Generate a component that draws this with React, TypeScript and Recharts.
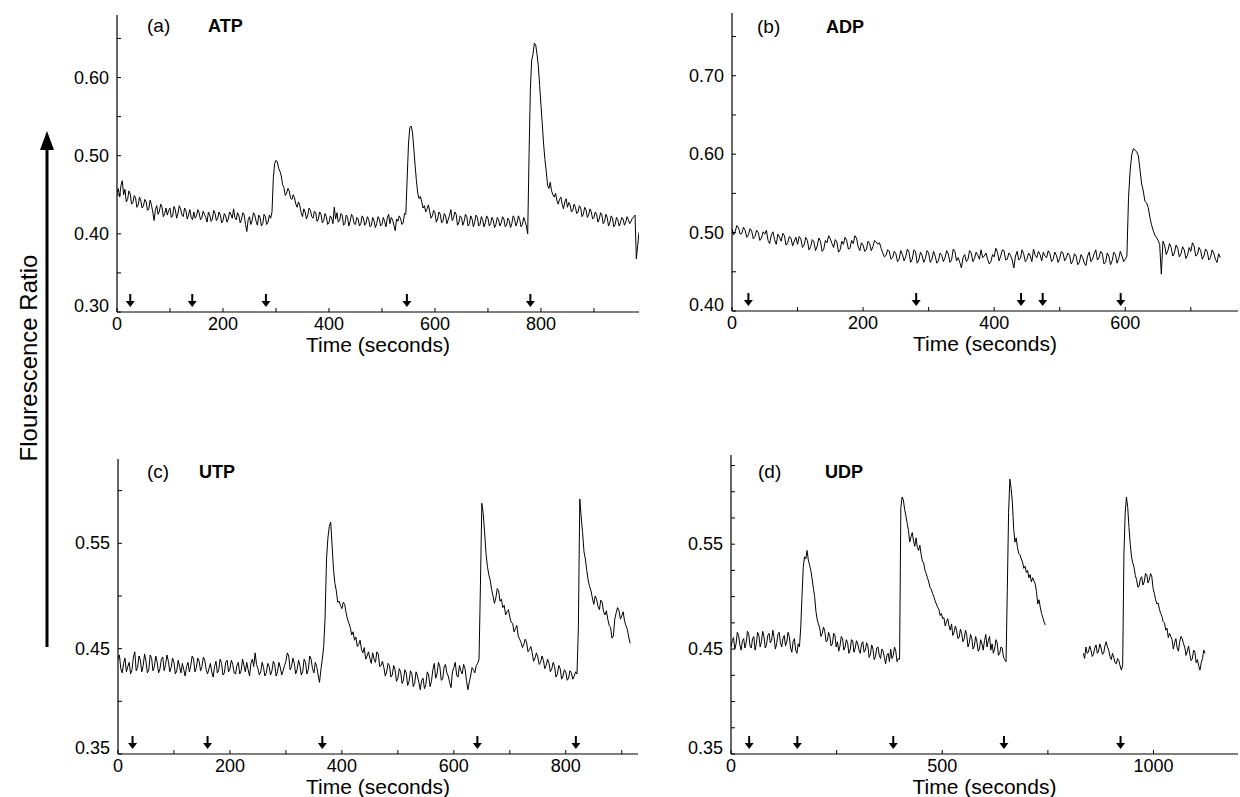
import { ComposedChart, Line, Scatter, XAxis, YAxis } from "recharts";

const FONT = '"Liberation Sans", Arial, Helvetica, sans-serif';

// ---- (a) ATP ----
const atpTime = [
  0, 2.5, 5, 7.5, 10, 12.5, 15, 17.5, 20, 22.5, 25, 27.5, 30, 32.5, 35, 37.5, 40, 42.5, 45, 47.5,
  50, 52.5, 55, 57.5, 60, 62.5, 65, 67.5, 70, 72.5, 75, 77.5, 80, 82.5, 85, 87.5, 90, 92.5, 95, 97.5,
  100, 102.5, 105, 107.5, 110, 112.5, 115, 117.5, 120, 122.5, 125, 127.5, 130, 132.5, 135, 137.5, 140, 142.5, 145, 147.5,
  150, 152.5, 155, 157.5, 160, 162.5, 165, 167.5, 170, 172.5, 175, 177.5, 180, 182.5, 185, 187.5, 190, 192.5, 195, 197.5,
  200, 202.5, 205, 207.5, 210, 212.5, 215, 217.5, 220, 222.5, 225, 227.5, 230, 232.5, 235, 237.5, 240, 242.5, 245, 247.5,
  250, 252.5, 255, 257.5, 260, 262.5, 265, 267.5, 270, 272.5, 275, 277.5, 280, 282.5, 285, 287.5, 290, 292.5, 295, 297.5,
  300, 302.5, 305, 307.5, 310, 312.5, 315, 317.5, 320, 322.5, 325, 327.5, 330, 332.5, 335, 337.5, 340, 342.5, 345, 347.5,
  350, 352.5, 355, 357.5, 360, 362.5, 365, 367.5, 370, 372.5, 375, 377.5, 380, 382.5, 385, 387.5, 390, 392.5, 395, 397.5,
  400, 402.5, 405, 407.5, 410, 412.5, 415, 417.5, 420, 422.5, 425, 427.5, 430, 432.5, 435, 437.5, 440, 442.5, 445, 447.5,
  450, 452.5, 455, 457.5, 460, 462.5, 465, 467.5, 470, 472.5, 475, 477.5, 480, 482.5, 485, 487.5, 490, 492.5, 495, 497.5,
  500, 502.5, 505, 507.5, 510, 512.5, 515, 517.5, 520, 522.5, 525, 527.5, 530, 532.5, 535, 537.5, 540, 542.5, 545, 547.5,
  550, 552.5, 555, 557.5, 560, 562.5, 565, 567.5, 570, 572.5, 575, 577.5, 580, 582.5, 585, 587.5, 590, 592.5, 595, 597.5,
  600, 602.5, 605, 607.5, 610, 612.5, 615, 617.5, 620, 622.5, 625, 627.5, 630, 632.5, 635, 637.5, 640, 642.5, 645, 647.5,
  650, 652.5, 655, 657.5, 660, 662.5, 665, 667.5, 670, 672.5, 675, 677.5, 680, 682.5, 685, 687.5, 690, 692.5, 695, 697.5,
  700, 702.5, 705, 707.5, 710, 712.5, 715, 717.5, 720, 722.5, 725, 727.5, 730, 732.5, 735, 737.5, 740, 742.5, 745, 747.5,
  750, 752.5, 755, 757.5, 760, 762.5, 765, 767.5, 770, 772.5, 775, 777.5, 780, 782.5, 785, 787.5, 790, 792.5, 795, 797.5,
  800, 802.5, 805, 807.5, 810, 812.5, 815, 817.5, 820, 822.5, 825, 827.5, 830, 832.5, 835, 837.5, 840, 842.5, 845, 847.5,
  850, 852.5, 855, 857.5, 860, 862.5, 865, 867.5, 870, 872.5, 875, 877.5, 880, 882.5, 885, 887.5, 890, 892.5, 895, 897.5,
  900, 902.5, 905, 907.5, 910, 912.5, 915, 917.5, 920, 922.5, 925, 927.5, 930, 932.5, 935, 937.5, 940, 942.5, 945, 947.5,
  950, 952.5, 955, 957.5, 960, 962.5, 965, 967.5, 970, 972.5, 975, 977.5, 980, 982.5, 985,
];
const atpRatio = [
  0.452, 0.458, 0.447, 0.462, 0.468, 0.45, 0.457, 0.441, 0.444, 0.455, 0.451, 0.438, 0.44, 0.449, 0.446, 0.434, 0.437, 0.447, 0.442, 0.433,
  0.436, 0.444, 0.441, 0.43, 0.432, 0.443, 0.437, 0.428, 0.417, 0.431, 0.436, 0.425, 0.429, 0.438, 0.434, 0.422, 0.426, 0.433, 0.424, 0.43,
  0.433, 0.421, 0.423, 0.435, 0.431, 0.42, 0.426, 0.436, 0.432, 0.424, 0.422, 0.433, 0.43, 0.419, 0.424, 0.431, 0.421, 0.418, 0.428, 0.42,
  0.423, 0.431, 0.427, 0.418, 0.42, 0.429, 0.425, 0.421, 0.415, 0.428, 0.424, 0.416, 0.419, 0.43, 0.426, 0.417, 0.42, 0.428, 0.424, 0.414,
  0.417, 0.426, 0.423, 0.415, 0.419, 0.428, 0.425, 0.42, 0.432, 0.421, 0.418, 0.427, 0.423, 0.414, 0.419, 0.427, 0.424, 0.412, 0.403, 0.418,
  0.422, 0.412, 0.417, 0.427, 0.424, 0.416, 0.411, 0.424, 0.421, 0.41, 0.413, 0.425, 0.422, 0.412, 0.415, 0.424, 0.42, 0.428, 0.472, 0.49,
  0.494, 0.492, 0.484, 0.48, 0.474, 0.463, 0.459, 0.449, 0.452, 0.458, 0.455, 0.446, 0.444, 0.45, 0.446, 0.438, 0.434, 0.441, 0.436, 0.427,
  0.422, 0.432, 0.428, 0.419, 0.424, 0.433, 0.43, 0.422, 0.42, 0.429, 0.427, 0.416, 0.419, 0.428, 0.425, 0.414, 0.417, 0.426, 0.422, 0.412,
  0.414, 0.423, 0.42, 0.413, 0.434, 0.419, 0.427, 0.415, 0.417, 0.426, 0.424, 0.411, 0.413, 0.424, 0.421, 0.41, 0.416, 0.425, 0.422, 0.413,
  0.412, 0.421, 0.419, 0.41, 0.413, 0.423, 0.42, 0.411, 0.414, 0.422, 0.418, 0.409, 0.411, 0.421, 0.417, 0.408, 0.413, 0.422, 0.419, 0.41,
  0.412, 0.421, 0.416, 0.409, 0.42, 0.425, 0.413, 0.421, 0.418, 0.411, 0.404, 0.419, 0.416, 0.423, 0.42, 0.412, 0.414, 0.426, 0.425, 0.47,
  0.515, 0.536, 0.538, 0.53, 0.51, 0.488, 0.468, 0.452, 0.445, 0.448, 0.441, 0.433, 0.436, 0.428, 0.432, 0.437, 0.429, 0.42, 0.423, 0.43,
  0.427, 0.415, 0.419, 0.428, 0.425, 0.414, 0.416, 0.426, 0.423, 0.413, 0.418, 0.424, 0.431, 0.417, 0.42, 0.428, 0.425, 0.411, 0.414, 0.423,
  0.421, 0.411, 0.416, 0.425, 0.422, 0.41, 0.413, 0.423, 0.419, 0.409, 0.415, 0.424, 0.421, 0.41, 0.412, 0.422, 0.418, 0.409, 0.414, 0.423,
  0.42, 0.41, 0.413, 0.421, 0.417, 0.408, 0.412, 0.421, 0.418, 0.41, 0.414, 0.422, 0.419, 0.409, 0.411, 0.42, 0.417, 0.408, 0.413, 0.423,
  0.42, 0.41, 0.414, 0.423, 0.418, 0.409, 0.412, 0.421, 0.416, 0.41, 0.4, 0.5, 0.585, 0.622, 0.63, 0.644, 0.642, 0.63, 0.615, 0.59,
  0.565, 0.54, 0.515, 0.495, 0.48, 0.462, 0.458, 0.466, 0.455, 0.45, 0.447, 0.452, 0.443, 0.438, 0.444, 0.447, 0.438, 0.432, 0.441, 0.445,
  0.434, 0.44, 0.437, 0.428, 0.43, 0.438, 0.434, 0.426, 0.428, 0.436, 0.433, 0.422, 0.425, 0.434, 0.431, 0.421, 0.424, 0.432, 0.428, 0.419,
  0.421, 0.428, 0.425, 0.415, 0.419, 0.427, 0.424, 0.413, 0.416, 0.425, 0.421, 0.41, 0.414, 0.423, 0.42, 0.409, 0.412, 0.421, 0.418, 0.41,
  0.414, 0.421, 0.419, 0.411, 0.415, 0.422, 0.418, 0.413, 0.416, 0.42, 0.422, 0.424, 0.368, 0.385, 0.402,
];
const atpDoses = [25, 142, 281, 547, 780];
const atpXTicks = [0, 100, 200, 300, 400, 500, 600, 700, 800, 900];
const atpXLabels = [0, 200, 400, 600, 800];
const atpYTicks = [0.3, 0.35, 0.4, 0.45, 0.5, 0.55, 0.6, 0.65];
const atpYLabels = [0.3, 0.4, 0.5, 0.6];

// ---- (b) ADP ----
const adpTime = [
  0, 2.5, 5, 7.5, 10, 12.5, 15, 17.5, 20, 22.5, 25, 27.5, 30, 32.5, 35, 37.5, 40, 42.5, 45, 47.5,
  50, 52.5, 55, 57.5, 60, 62.5, 65, 67.5, 70, 72.5, 75, 77.5, 80, 82.5, 85, 87.5, 90, 92.5, 95, 97.5,
  100, 102.5, 105, 107.5, 110, 112.5, 115, 117.5, 120, 122.5, 125, 127.5, 130, 132.5, 135, 137.5, 140, 142.5, 145, 147.5,
  150, 152.5, 155, 157.5, 160, 162.5, 165, 167.5, 170, 172.5, 175, 177.5, 180, 182.5, 185, 187.5, 190, 192.5, 195, 197.5,
  200, 202.5, 205, 207.5, 210, 212.5, 215, 217.5, 220, 222.5, 225, 227.5, 230, 232.5, 235, 237.5, 240, 242.5, 245, 247.5,
  250, 252.5, 255, 257.5, 260, 262.5, 265, 267.5, 270, 272.5, 275, 277.5, 280, 282.5, 285, 287.5, 290, 292.5, 295, 297.5,
  300, 302.5, 305, 307.5, 310, 312.5, 315, 317.5, 320, 322.5, 325, 327.5, 330, 332.5, 335, 337.5, 340, 342.5, 345, 347.5,
  350, 352.5, 355, 357.5, 360, 362.5, 365, 367.5, 370, 372.5, 375, 377.5, 380, 382.5, 385, 387.5, 390, 392.5, 395, 397.5,
  400, 402.5, 405, 407.5, 410, 412.5, 415, 417.5, 420, 422.5, 425, 427.5, 430, 432.5, 435, 437.5, 440, 442.5, 445, 447.5,
  450, 452.5, 455, 457.5, 460, 462.5, 465, 467.5, 470, 472.5, 475, 477.5, 480, 482.5, 485, 487.5, 490, 492.5, 495, 497.5,
  500, 502.5, 505, 507.5, 510, 512.5, 515, 517.5, 520, 522.5, 525, 527.5, 530, 532.5, 535, 537.5, 540, 542.5, 545, 547.5,
  550, 552.5, 555, 557.5, 560, 562.5, 565, 567.5, 570, 572.5, 575, 577.5, 580, 582.5, 585, 587.5, 590, 592.5, 595, 597.5,
  600, 602.5, 605, 607.5, 610, 612.5, 615, 617.5, 620, 622.5, 625, 627.5, 630, 632.5, 635, 637.5, 640, 642.5, 645, 647.5,
  650, 652.5, 655, 657.5, 660, 662.5, 665, 667.5, 670, 672.5, 675, 677.5, 680, 682.5, 685, 687.5, 690, 692.5, 695, 697.5,
  700, 702.5, 705, 707.5, 710, 712.5, 715, 717.5, 720, 722.5, 725, 727.5, 730, 732.5, 735, 737.5, 740, 742.5, 745,
];
const adpRatio = [
  0.505, 0.497, 0.502, 0.509, 0.506, 0.498, 0.499, 0.507, 0.503, 0.494, 0.497, 0.505, 0.502, 0.492, 0.495, 0.503, 0.5, 0.49, 0.493, 0.501,
  0.498, 0.503, 0.49, 0.486, 0.497, 0.501, 0.491, 0.485, 0.498, 0.494, 0.489, 0.499, 0.496, 0.484, 0.487, 0.495, 0.493, 0.483, 0.489, 0.494,
  0.485, 0.495, 0.492, 0.481, 0.484, 0.494, 0.49, 0.478, 0.482, 0.491, 0.488, 0.477, 0.483, 0.493, 0.489, 0.476, 0.479, 0.49, 0.487, 0.496,
  0.492, 0.486, 0.481, 0.491, 0.488, 0.475, 0.478, 0.489, 0.485, 0.494, 0.49, 0.479, 0.48, 0.49, 0.486, 0.496, 0.493, 0.482, 0.477, 0.487,
  0.484, 0.476, 0.478, 0.489, 0.486, 0.477, 0.482, 0.49, 0.488, 0.485, 0.487, 0.48, 0.474, 0.469, 0.471, 0.478, 0.476, 0.466, 0.468, 0.476,
  0.473, 0.463, 0.466, 0.477, 0.472, 0.464, 0.469, 0.479, 0.475, 0.462, 0.466, 0.478, 0.476, 0.461, 0.465, 0.475, 0.471, 0.462, 0.467, 0.477,
  0.474, 0.462, 0.466, 0.476, 0.47, 0.461, 0.464, 0.474, 0.471, 0.463, 0.468, 0.477, 0.473, 0.462, 0.465, 0.479, 0.476, 0.464, 0.468, 0.462,
  0.455, 0.468, 0.472, 0.463, 0.466, 0.477, 0.474, 0.463, 0.467, 0.475, 0.471, 0.466, 0.478, 0.468, 0.47, 0.474, 0.466, 0.46, 0.463, 0.472,
  0.469, 0.48, 0.475, 0.464, 0.47, 0.478, 0.477, 0.465, 0.466, 0.474, 0.471, 0.465, 0.455, 0.47, 0.476, 0.465, 0.467, 0.478, 0.473, 0.463,
  0.466, 0.474, 0.47, 0.463, 0.479, 0.471, 0.468, 0.476, 0.472, 0.464, 0.475, 0.47, 0.468, 0.477, 0.473, 0.463, 0.466, 0.475, 0.471, 0.462,
  0.467, 0.476, 0.474, 0.464, 0.468, 0.474, 0.471, 0.46, 0.464, 0.473, 0.47, 0.459, 0.462, 0.472, 0.468, 0.461, 0.458, 0.47, 0.475, 0.463,
  0.466, 0.473, 0.478, 0.465, 0.468, 0.476, 0.473, 0.46, 0.462, 0.474, 0.47, 0.459, 0.464, 0.475, 0.472, 0.461, 0.467, 0.476, 0.47, 0.463,
  0.466, 0.47, 0.545, 0.58, 0.6, 0.607, 0.605, 0.603, 0.598, 0.58, 0.562, 0.553, 0.54, 0.538, 0.532, 0.52, 0.51, 0.503, 0.497, 0.494,
  0.49, 0.485, 0.447, 0.489, 0.484, 0.472, 0.477, 0.486, 0.481, 0.47, 0.474, 0.484, 0.48, 0.469, 0.473, 0.482, 0.478, 0.467, 0.471, 0.481,
  0.476, 0.487, 0.483, 0.47, 0.472, 0.481, 0.477, 0.466, 0.47, 0.479, 0.476, 0.465, 0.468, 0.478, 0.474, 0.466, 0.462, 0.473, 0.468,
];
const adpDoses = [25, 281, 441, 474, 593];
const adpXTicks = [0, 100, 200, 300, 400, 500, 600, 700];
const adpXLabels = [0, 200, 400, 600];
const adpYTicks = [0.4, 0.45, 0.5, 0.55, 0.6, 0.65, 0.7, 0.75];
const adpYLabels = [0.4, 0.5, 0.6, 0.7];

// ---- (c) UTP ----
const utpTime = [
  0, 2.5, 5, 7.5, 10, 12.5, 15, 17.5, 20, 22.5, 25, 27.5, 30, 32.5, 35, 37.5, 40, 42.5, 45, 47.5,
  50, 52.5, 55, 57.5, 60, 62.5, 65, 67.5, 70, 72.5, 75, 77.5, 80, 82.5, 85, 87.5, 90, 92.5, 95, 97.5,
  100, 102.5, 105, 107.5, 110, 112.5, 115, 117.5, 120, 122.5, 125, 127.5, 130, 132.5, 135, 137.5, 140, 142.5, 145, 147.5,
  150, 152.5, 155, 157.5, 160, 162.5, 165, 167.5, 170, 172.5, 175, 177.5, 180, 182.5, 185, 187.5, 190, 192.5, 195, 197.5,
  200, 202.5, 205, 207.5, 210, 212.5, 215, 217.5, 220, 222.5, 225, 227.5, 230, 232.5, 235, 237.5, 240, 242.5, 245, 247.5,
  250, 252.5, 255, 257.5, 260, 262.5, 265, 267.5, 270, 272.5, 275, 277.5, 280, 282.5, 285, 287.5, 290, 292.5, 295, 297.5,
  300, 302.5, 305, 307.5, 310, 312.5, 315, 317.5, 320, 322.5, 325, 327.5, 330, 332.5, 335, 337.5, 340, 342.5, 345, 347.5,
  350, 352.5, 355, 357.5, 360, 362.5, 365, 367.5, 370, 372.5, 375, 377.5, 380, 382.5, 385, 387.5, 390, 392.5, 395, 397.5,
  400, 402.5, 405, 407.5, 410, 412.5, 415, 417.5, 420, 422.5, 425, 427.5, 430, 432.5, 435, 437.5, 440, 442.5, 445, 447.5,
  450, 452.5, 455, 457.5, 460, 462.5, 465, 467.5, 470, 472.5, 475, 477.5, 480, 482.5, 485, 487.5, 490, 492.5, 495, 497.5,
  500, 502.5, 505, 507.5, 510, 512.5, 515, 517.5, 520, 522.5, 525, 527.5, 530, 532.5, 535, 537.5, 540, 542.5, 545, 547.5,
  550, 552.5, 555, 557.5, 560, 562.5, 565, 567.5, 570, 572.5, 575, 577.5, 580, 582.5, 585, 587.5, 590, 592.5, 595, 597.5,
  600, 602.5, 605, 607.5, 610, 612.5, 615, 617.5, 620, 622.5, 625, 627.5, 630, 632.5, 635, 637.5, 640, 642.5, 645, 647.5,
  650, 652.5, 655, 657.5, 660, 662.5, 665, 667.5, 670, 672.5, 675, 677.5, 680, 682.5, 685, 687.5, 690, 692.5, 695, 697.5,
  700, 702.5, 705, 707.5, 710, 712.5, 715, 717.5, 720, 722.5, 725, 727.5, 730, 732.5, 735, 737.5, 740, 742.5, 745, 747.5,
  750, 752.5, 755, 757.5, 760, 762.5, 765, 767.5, 770, 772.5, 775, 777.5, 780, 782.5, 785, 787.5, 790, 792.5, 795, 797.5,
  800, 802.5, 805, 807.5, 810, 812.5, 815, 817.5, 820, 822.5, 825, 827.5, 830, 832.5, 835, 837.5, 840, 842.5, 845, 847.5,
  850, 852.5, 855, 857.5, 860, 862.5, 865, 867.5, 870, 872.5, 875, 877.5, 880, 882.5, 885, 887.5, 890, 892.5, 895, 897.5,
  900, 902.5, 905, 907.5, 910, 912.5, 915,
];
const utpRatio = [
  0.44, 0.444, 0.431, 0.427, 0.436, 0.441, 0.428, 0.433, 0.437, 0.426, 0.43, 0.442, 0.447, 0.429, 0.432, 0.443, 0.439, 0.428, 0.434, 0.445,
  0.438, 0.427, 0.43, 0.444, 0.441, 0.429, 0.433, 0.443, 0.437, 0.427, 0.431, 0.44, 0.442, 0.429, 0.435, 0.444, 0.438, 0.428, 0.432, 0.441,
  0.437, 0.426, 0.429, 0.439, 0.433, 0.427, 0.436, 0.43, 0.424, 0.433, 0.437, 0.428, 0.434, 0.443, 0.44, 0.428, 0.432, 0.441, 0.438, 0.429,
  0.433, 0.442, 0.439, 0.43, 0.426, 0.431, 0.436, 0.428, 0.423, 0.433, 0.438, 0.427, 0.43, 0.44, 0.436, 0.425, 0.427, 0.437, 0.439, 0.428,
  0.431, 0.439, 0.435, 0.427, 0.426, 0.434, 0.437, 0.426, 0.429, 0.44, 0.434, 0.428, 0.437, 0.43, 0.424, 0.436, 0.44, 0.433, 0.446, 0.435,
  0.431, 0.425, 0.428, 0.437, 0.432, 0.424, 0.427, 0.436, 0.433, 0.425, 0.429, 0.438, 0.435, 0.424, 0.428, 0.437, 0.432, 0.425, 0.429, 0.434,
  0.438, 0.446, 0.443, 0.43, 0.433, 0.441, 0.436, 0.426, 0.43, 0.439, 0.434, 0.425, 0.428, 0.44, 0.437, 0.426, 0.43, 0.443, 0.44, 0.431,
  0.427, 0.437, 0.433, 0.425, 0.418, 0.43, 0.44, 0.452, 0.48, 0.535, 0.555, 0.566, 0.57, 0.548, 0.525, 0.512, 0.505, 0.494, 0.495, 0.491,
  0.488, 0.494, 0.492, 0.484, 0.478, 0.474, 0.47, 0.463, 0.466, 0.458, 0.461, 0.452, 0.454, 0.458, 0.449, 0.446, 0.451, 0.44, 0.443, 0.447,
  0.441, 0.436, 0.446, 0.44, 0.437, 0.447, 0.445, 0.433, 0.434, 0.438, 0.432, 0.424, 0.428, 0.436, 0.434, 0.423, 0.425, 0.434, 0.43, 0.419,
  0.422, 0.431, 0.428, 0.417, 0.42, 0.43, 0.427, 0.415, 0.419, 0.429, 0.426, 0.414, 0.417, 0.428, 0.424, 0.418, 0.411, 0.42, 0.422, 0.412,
  0.416, 0.428, 0.425, 0.414, 0.419, 0.43, 0.436, 0.422, 0.426, 0.437, 0.433, 0.42, 0.421, 0.432, 0.435, 0.427, 0.424, 0.418, 0.413, 0.428,
  0.432, 0.437, 0.425, 0.423, 0.434, 0.429, 0.426, 0.435, 0.431, 0.42, 0.411, 0.418, 0.424, 0.432, 0.43, 0.427, 0.434, 0.436, 0.44, 0.51,
  0.588, 0.578, 0.56, 0.54, 0.528, 0.52, 0.515, 0.506, 0.5, 0.493, 0.498, 0.507, 0.505, 0.495, 0.497, 0.489, 0.491, 0.482, 0.485, 0.487,
  0.48, 0.475, 0.474, 0.466, 0.469, 0.472, 0.462, 0.459, 0.456, 0.451, 0.454, 0.459, 0.456, 0.447, 0.449, 0.452, 0.446, 0.438, 0.441, 0.446,
  0.442, 0.435, 0.437, 0.443, 0.439, 0.431, 0.434, 0.44, 0.436, 0.428, 0.431, 0.437, 0.433, 0.423, 0.426, 0.434, 0.431, 0.421, 0.424, 0.43,
  0.428, 0.42, 0.422, 0.429, 0.427, 0.421, 0.424, 0.428, 0.426, 0.47, 0.592, 0.575, 0.56, 0.542, 0.535, 0.524, 0.515, 0.509, 0.505, 0.498,
  0.492, 0.5, 0.497, 0.49, 0.487, 0.496, 0.494, 0.485, 0.482, 0.486, 0.478, 0.472, 0.47, 0.46, 0.462, 0.478, 0.484, 0.489, 0.486, 0.478,
  0.481, 0.485, 0.476, 0.472, 0.468, 0.461, 0.455,
];
const utpDoses = [26, 160, 365, 642, 818];
const utpXTicks = [0, 100, 200, 300, 400, 500, 600, 700, 800, 900];
const utpXLabels = [0, 200, 400, 600, 800];
const utpYTicks = [0.35, 0.4, 0.45, 0.5, 0.55, 0.6];
const utpYLabels = [0.35, 0.45, 0.55];

// ---- (d) UDP (recording gap between ~745 s and ~834 s) ----
const udpTime = [
  0, 3, 6, 9, 12, 15, 18, 21, 24, 27, 30, 33, 36, 39, 42, 45, 48, 51, 54, 57,
  60, 63, 66, 69, 72, 75, 78, 81, 84, 87, 90, 93, 96, 99, 102, 105, 108, 111, 114, 117,
  120, 123, 126, 129, 132, 135, 138, 141, 144, 147, 150, 153, 156, 159, 162, 165, 168, 171, 174, 177,
  180, 183, 186, 189, 192, 195, 198, 201, 204, 207, 210, 213, 216, 219, 222, 225, 228, 231, 234, 237,
  240, 243, 246, 249, 252, 255, 258, 261, 264, 267, 270, 273, 276, 279, 282, 285, 288, 291, 294, 297,
  300, 303, 306, 309, 312, 315, 318, 321, 324, 327, 330, 333, 336, 339, 342, 345, 348, 351, 354, 357,
  360, 363, 366, 369, 372, 375, 378, 381, 384, 387, 390, 393, 396, 399, 402, 405, 408, 411, 414, 417,
  420, 423, 426, 429, 432, 435, 438, 441, 444, 447, 450, 453, 456, 459, 462, 465, 468, 471, 474, 477,
  480, 483, 486, 489, 492, 495, 498, 501, 504, 507, 510, 513, 516, 519, 522, 525, 528, 531, 534, 537,
  540, 543, 546, 549, 552, 555, 558, 561, 564, 567, 570, 573, 576, 579, 582, 585, 588, 591, 594, 597,
  600, 603, 606, 609, 612, 615, 618, 621, 624, 627, 630, 633, 636, 639, 642, 645, 648, 651, 654, 657,
  660, 663, 666, 669, 672, 675, 678, 681, 684, 687, 690, 693, 696, 699, 702, 705, 708, 711, 714, 717,
  720, 723, 726, 729, 732, 735, 738, 741, 744,
  790,
  834, 837, 840, 843, 846, 849, 852, 855, 858, 861, 864, 867, 870, 873, 876, 879, 882, 885, 888, 891,
  894, 897, 900, 903, 906, 909, 912, 915, 918, 921, 924, 927, 930, 933, 936, 939, 942, 945, 948, 951,
  954, 957, 960, 963, 966, 969, 972, 975, 978, 981, 984, 987, 990, 993, 996, 999, 1002, 1005, 1008, 1011,
  1014, 1017, 1020, 1023, 1026, 1029, 1032, 1035, 1038, 1041, 1044, 1047, 1050, 1053, 1056, 1059, 1062, 1065, 1068, 1071,
  1074, 1077, 1080, 1083, 1086, 1089, 1092, 1095, 1098, 1101, 1104, 1107, 1110, 1113, 1116, 1119, 1122,
];
const udpRatio: (number | null)[] = [
  0.452, 0.458, 0.461, 0.45, 0.455, 0.466, 0.463, 0.454, 0.449, 0.458, 0.46, 0.451, 0.456, 0.467, 0.464, 0.453, 0.451, 0.46, 0.462, 0.449,
  0.455, 0.466, 0.463, 0.452, 0.457, 0.467, 0.462, 0.451, 0.454, 0.463, 0.465, 0.456, 0.458, 0.468, 0.461, 0.45, 0.455, 0.464, 0.466, 0.456,
  0.452, 0.46, 0.463, 0.453, 0.457, 0.466, 0.462, 0.451, 0.447, 0.457, 0.46, 0.449, 0.446, 0.455, 0.452, 0.47, 0.5, 0.528, 0.538, 0.536,
  0.544, 0.535, 0.53, 0.525, 0.517, 0.508, 0.5, 0.486, 0.478, 0.474, 0.47, 0.462, 0.465, 0.471, 0.467, 0.457, 0.458, 0.466, 0.462, 0.453,
  0.455, 0.465, 0.463, 0.452, 0.457, 0.448, 0.453, 0.462, 0.46, 0.449, 0.452, 0.459, 0.456, 0.446, 0.449, 0.459, 0.458, 0.447, 0.451, 0.458,
  0.455, 0.449, 0.446, 0.455, 0.457, 0.447, 0.449, 0.456, 0.453, 0.442, 0.445, 0.454, 0.45, 0.44, 0.443, 0.451, 0.452, 0.444, 0.441, 0.45,
  0.448, 0.442, 0.436, 0.444, 0.446, 0.438, 0.45, 0.441, 0.444, 0.452, 0.448, 0.438, 0.441, 0.44, 0.585, 0.595, 0.592, 0.583, 0.577, 0.57,
  0.563, 0.552, 0.557, 0.561, 0.553, 0.548, 0.556, 0.547, 0.544, 0.549, 0.54, 0.534, 0.532, 0.525, 0.522, 0.518, 0.514, 0.509, 0.507, 0.503,
  0.5, 0.496, 0.493, 0.49, 0.488, 0.482, 0.484, 0.479, 0.48, 0.472, 0.476, 0.479, 0.472, 0.468, 0.474, 0.463, 0.466, 0.472, 0.468, 0.46,
  0.461, 0.469, 0.465, 0.457, 0.46, 0.468, 0.463, 0.452, 0.456, 0.464, 0.46, 0.45, 0.453, 0.462, 0.457, 0.448, 0.45, 0.459, 0.455, 0.449,
  0.458, 0.464, 0.452, 0.458, 0.462, 0.449, 0.455, 0.446, 0.45, 0.459, 0.456, 0.444, 0.446, 0.452, 0.451, 0.442, 0.44, 0.438, 0.507, 0.58,
  0.612, 0.603, 0.59, 0.565, 0.552, 0.556, 0.547, 0.541, 0.54, 0.536, 0.533, 0.527, 0.529, 0.523, 0.525, 0.518, 0.521, 0.514, 0.518, 0.515,
  0.512, 0.505, 0.493, 0.497, 0.49, 0.484, 0.48, 0.476, 0.473,
  null,
  0.446, 0.441, 0.452, 0.446, 0.447, 0.453, 0.449, 0.443, 0.445, 0.451, 0.454, 0.446, 0.448, 0.455, 0.451, 0.445, 0.446, 0.453, 0.457, 0.452,
  0.449, 0.443, 0.44, 0.446, 0.442, 0.437, 0.436, 0.441, 0.439, 0.434, 0.43, 0.435, 0.54, 0.58, 0.595, 0.585, 0.566, 0.55, 0.538, 0.532,
  0.528, 0.52, 0.516, 0.509, 0.51, 0.517, 0.519, 0.511, 0.514, 0.522, 0.521, 0.513, 0.516, 0.522, 0.519, 0.508, 0.503, 0.497, 0.493, 0.494,
  0.488, 0.484, 0.481, 0.476, 0.475, 0.468, 0.47, 0.461, 0.465, 0.462, 0.459, 0.45, 0.456, 0.46, 0.451, 0.448, 0.457, 0.462, 0.46, 0.455,
  0.452, 0.444, 0.448, 0.453, 0.445, 0.439, 0.441, 0.449, 0.447, 0.437, 0.44, 0.434, 0.43, 0.437, 0.441, 0.449, 0.446,
];
const udpDoses = [43, 157, 384, 646, 922];
const udpXTicks = [0, 250, 500, 750, 1000];
const udpXLabels = [0, 500, 1000];
const udpYTicks = [0.35, 0.375, 0.4, 0.425, 0.45, 0.475, 0.5, 0.525, 0.55, 0.575, 0.6, 0.625];
const udpYLabels = [0.35, 0.45, 0.55];

type Pt = { t: number; v: number | null };

function toPoints(times: number[], values: (number | null)[]): Pt[] {
  return times.map((t, i) => ({ t, v: values[i] }));
}

const same = (a: number, b: number) => Math.abs(a - b) < 1e-6;

function makeXTick(labels: number[]) {
  return (props: any) => {
    const { x, y, payload } = props;
    const show = labels.some((l) => same(l, payload.value));
    return (
      <g>
        <line x1={x} y1={y} x2={x} y2={y - 4} stroke="#000" />
        {show && (
          <text x={x} y={y + 18} textAnchor="middle" fontSize={18} fontFamily={FONT} fill="#000">
            {payload.value}
          </text>
        )}
      </g>
    );
  };
}

function makeYTick(labels: number[], min: number) {
  return (props: any) => {
    const { x, y, payload } = props;
    const show = labels.some((l) => same(l, payload.value));
    const lift = same(payload.value, min) ? 6 : 0;
    return (
      <g>
        <line x1={x} y1={y} x2={x + 4} y2={y} stroke="#000" />
        {show && (
          <text x={x - 8} y={y + 6 - lift} textAnchor="end" fontSize={18} fontFamily={FONT} fill="#000">
            {payload.value.toFixed(2)}
          </text>
        )}
      </g>
    );
  };
}

function DoseArrow(props: any) {
  const { cx, cy } = props;
  return (
    <g>
      <line x1={cx} y1={cy - 18} x2={cx} y2={cy - 9} stroke="#000" strokeWidth={2} />
      <polygon points={`${cx - 4.5},${cy - 11} ${cx + 4.5},${cy - 11} ${cx},${cy - 5}`} fill="#000" />
    </g>
  );
}

type PanelProps = {
  left: number;
  top: number;
  width: number;
  height: number;
  yAxisWidth: number;
  xAxisHeight: number;
  marginTop: number;
  marginRight: number;
  xDomain: [number, number];
  xTicks: number[];
  xLabels: number[];
  yDomain: [number, number];
  yTicks: number[];
  yLabels: number[];
  data: Pt[];
  doses: number[];
};

function Panel(p: PanelProps) {
  const doseData = p.doses.map((t) => ({ t, v: p.yDomain[0] }));
  return (
    <div style={{ position: "absolute", left: p.left, top: p.top }}>
      <ComposedChart
        width={p.width}
        height={p.height}
        margin={{ top: p.marginTop, right: p.marginRight, bottom: 0, left: 0 }}
      >
        <XAxis
          dataKey="t"
          type="number"
          domain={p.xDomain}
          ticks={p.xTicks}
          allowDataOverflow
          height={p.xAxisHeight}
          tickSize={0}
          tickMargin={0}
          tickLine={false}
          axisLine={{ stroke: "#000", strokeWidth: 1.2 }}
          tick={makeXTick(p.xLabels)}
          interval={0}
          label={{
            value: "Time (seconds)",
            position: "insideBottom",
            offset: p.xAxisHeight - 40,
            style: { fontSize: 21, fontFamily: FONT, fill: "#000" },
          }}
        />
        <YAxis
          type="number"
          domain={p.yDomain}
          ticks={p.yTicks}
          allowDataOverflow
          width={p.yAxisWidth}
          tickSize={0}
          tickMargin={0}
          tickLine={false}
          axisLine={{ stroke: "#000", strokeWidth: 1.2 }}
          tick={makeYTick(p.yLabels, p.yDomain[0])}
          interval={0}
        />
        <Line
          data={p.data}
          dataKey="v"
          type="linear"
          stroke="#000"
          strokeWidth={1}
          dot={false}
          activeDot={false}
          connectNulls={false}
          isAnimationActive={false}
        />
        <Scatter data={doseData} dataKey="v" shape={DoseArrow} isAnimationActive={false} />
      </ComposedChart>
    </div>
  );
}

export default function App() {
  const tagStyle = { fontSize: 19, fontFamily: FONT, fill: "#000" };
  const nameStyle = { fontSize: 18, fontFamily: FONT, fontWeight: 700, fill: "#000" };
  return (
    <div style={{ position: "absolute", left: 0, top: 0, width: 1240, height: 797, background: "#fff" }}>
      <Panel
        left={50} top={0} width={600} height={360}
        yAxisWidth={67} xAxisHeight={48} marginTop={15} marginRight={11}
        xDomain={[0, 985]} xTicks={atpXTicks} xLabels={atpXLabels}
        yDomain={[0.3, 0.68]} yTicks={atpYTicks} yLabels={atpYLabels}
        data={toPoints(atpTime, atpRatio)} doses={atpDoses}
      />
      <Panel
        left={660} top={0} width={580} height={360}
        yAxisWidth={72} xAxisHeight={49} marginTop={13} marginRight={2}
        xDomain={[0, 772]} xTicks={adpXTicks} xLabels={adpXLabels}
        yDomain={[0.4, 0.78]} yTicks={adpYTicks} yLabels={adpYLabels}
        data={toPoints(adpTime, adpRatio)} doses={adpDoses}
      />
      <Panel
        left={50} top={440} width={600} height={357}
        yAxisWidth={68} xAxisHeight={43} marginTop={19} marginRight={12}
        xDomain={[0, 929]} xTicks={utpXTicks} xLabels={utpXLabels}
        yDomain={[0.35, 0.63]} yTicks={utpYTicks} yLabels={utpYLabels}
        data={toPoints(utpTime, utpRatio)} doses={utpDoses}
      />
      <Panel
        left={660} top={440} width={580} height={357}
        yAxisWidth={71} xAxisHeight={43} marginTop={15} marginRight={2}
        xDomain={[0, 1200]} xTicks={udpXTicks} xLabels={udpXLabels}
        yDomain={[0.35, 0.635]} yTicks={udpYTicks} yLabels={udpYLabels}
        data={toPoints(udpTime, udpRatio)} doses={udpDoses}
      />
      <svg width={1240} height={797} style={{ position: "absolute", left: 0, top: 0, pointerEvents: "none" }}>
        <text transform="translate(37,358) rotate(-90)" textAnchor="middle" fontSize={24} fontFamily={FONT} fill="#000">
          Flourescence Ratio
        </text>
        <line x1={47} y1={647} x2={47} y2={148} stroke="#000" strokeWidth={3} />
        <polygon points="40,150 54,150 47,131" fill="#000" />

        <text x={147} y={32} style={tagStyle}>(a)</text>
        <text x={208} y={32} style={nameStyle}>ATP</text>
        <text x={757} y={33} style={tagStyle}>(b)</text>
        <text x={826} y={33} style={nameStyle}>ADP</text>
        <text x={147} y={478} style={tagStyle}>(c)</text>
        <text x={199} y={478} style={nameStyle}>UTP</text>
        <text x={758} y={478} style={tagStyle}>(d)</text>
        <text x={825} y={478} style={nameStyle}>UDP</text>
      </svg>
    </div>
  );
}
